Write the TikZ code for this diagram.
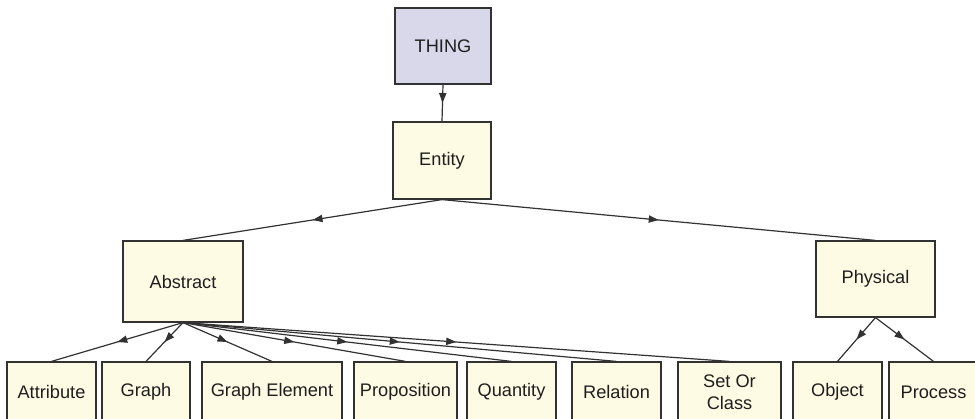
\documentclass[tikz,border=0pt]{standalone}
\usepackage{fontspec}
\setmainfont{Liberation Sans}
\usetikzlibrary{arrows.meta,decorations.markings}
\definecolor{thingfill}{RGB}{216,216,234}
\definecolor{boxfill}{RGB}{254,251,228}
\definecolor{linegray}{RGB}{50,50,50}
\definecolor{textgray}{RGB}{30,30,30}

\begin{document}
\begin{tikzpicture}[x=0.5pt, y=-0.5pt,
    box/.style={rectangle, draw=linegray, fill=boxfill, line width=0.6pt, inner sep=0pt,
                align=center, text=textgray, font=\fontsize{9.1}{11}\selectfont},
    flow/.style={draw=linegray, line width=0.6pt, postaction={decorate},
                 decoration={markings, mark=at position 0.5 with {\arrow{Triangle[length=5pt,width=3.6pt]}}}}
]
    \useasboundingbox (0,0) rectangle (975,418);
    \clip (0,0) rectangle (975,418);

    % top of the hierarchy
    \node[box, fill=thingfill, minimum width=48pt, minimum height=38pt] (thing) at (443,46) {THING};
    \node[box, minimum width=49pt, minimum height=38.5pt] (entity) at (442,160.5) {Entity};
    \node[box, minimum width=60pt, minimum height=40.5pt] (abstract) at (183,281.5) {Abstract};
    \node[box, minimum width=59.5pt, minimum height=38pt] (physical) at (875.5,279) {Physical};

    % leaves
    \node[box, minimum width=44.5pt, minimum height=30pt] (attribute) at (51.5,392) {Attribute};
    \node[box, minimum width=44pt, minimum height=30pt] (graph) at (146,392) {Graph};
    \node[box, minimum width=70pt, minimum height=30pt] (graphel) at (272,392) {Graph Element};
    \node[box, minimum width=51.5pt, minimum height=30pt] (proposition) at (405.5,392) {Proposition};
    \node[box, minimum width=44.5pt, minimum height=30pt] (quantity) at (511.5,392) {Quantity};
    \node[box, minimum width=44.5pt, minimum height=30pt] (relation) at (616.5,392) {Relation};
    \node[box, minimum width=51.5pt, minimum height=30pt] (setclass) at (729.5,392) {Set Or\\Class};
    \node[box, minimum width=44.5pt, minimum height=30pt] (object) at (837.5,392) {Object};
    \node[box, minimum width=44.5pt, minimum height=30pt] (process) at (933.5,392) {Process};

    \draw[flow] (thing.south) -- (entity.north);
    \draw[flow] (entity.south) -- (abstract.north);
    \draw[flow] (entity.south) -- (physical.north);

    \foreach \leaf in {attribute,graph,graphel,proposition,quantity,relation,setclass}
        \draw[flow] (abstract.south) -- (\leaf.north);
    \foreach \leaf in {object,process}
        \draw[flow] (physical.south) -- (\leaf.north);
\end{tikzpicture}
\end{document}
